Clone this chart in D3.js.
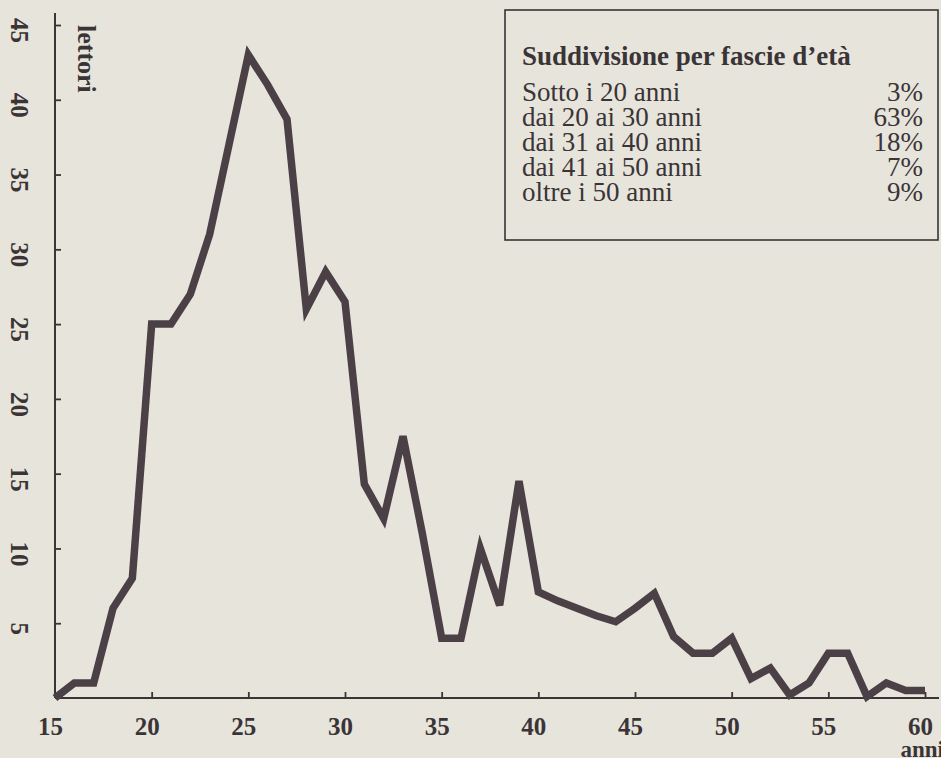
<!DOCTYPE html>
<html>
<head>
<meta charset="utf-8">
<script src="https://cdn.jsdelivr.net/npm/d3@7/dist/d3.min.js"></script>
<style>
  html, body { margin: 0; padding: 0; background: #e7e4dc; }
  svg { display: block; }
</style>
</head>
<body>
<svg id="chart" width="941" height="758"></svg>
<script>
// ---- data ----
const ages = [15,16,17,18,19,20,21,22,23,24,25,26,27,28,29,30,31,32,33,34,35,36,37,38,39,40,41,42,43,44,45,46,47,48,49,50,51,52,53,54,55,56,57,58,59,60];
const readers = [0,1,1,6,8,25,25,27,31,37,43,41,38.7,26,28.5,26.5,14.3,12,17.5,11,4,4,10,6.2,14.5,7.1,6.5,6,5.5,5.1,6,7,4.1,3,3,4,1.3,2,0.2,1,3,3,0.1,1,0.5,0.5];
const xTicks = [15,20,25,30,35,40,45,50,55,60];
const yTicks = [5,10,15,20,25,30,35,40,45];
const yLabel = "lettori";
const xLabel = "anni";
const legendTitle = "Suddivisione per fascie d\u2019età";
const legendLabels = ["Sotto i 20 anni","dai 20 ai 30 anni","dai 31 ai 40 anni","dai 41 ai 50 anni","oltre i 50 anni"];
const legendValues = ["3%","63%","18%","7%","9%"];

// ---- layout ----
const W = 941, H = 758;
const ink = "#3a3436";
const lineColor = "#4a4046";
const serif = "'Liberation Serif','DejaVu Serif','Times New Roman',serif";

const svg = d3.select("#chart");
svg.append("rect").attr("width", W).attr("height", H).attr("fill", "#e7e4dc");

const x = d3.scaleLinear().domain([15, 60]).range([55, 925]);
const y = d3.scaleLinear().domain([0, 45]).range([698, 25]);

// axis lines
svg.append("line").attr("x1", x(15)).attr("x2", 939).attr("y1", y(0)).attr("y2", y(0))
  .attr("stroke", ink).attr("stroke-width", 2);
svg.append("line").attr("x1", x(15)).attr("x2", x(15)).attr("y1", y(0)).attr("y2", 13)
  .attr("stroke", ink).attr("stroke-width", 2);

// x axis
const xAxis = svg.append("g").attr("transform", `translate(0,${y(0)})`)
  .call(d3.axisBottom(x).tickValues(xTicks).tickSize(-6).tickPadding(19).tickFormat(d3.format("d")));
xAxis.select(".domain").remove();
xAxis.selectAll(".tick line").attr("stroke", ink).attr("stroke-width", 1.8);
xAxis.selectAll(".tick line").filter(d => d === 15).remove();
xAxis.selectAll(".tick text")
  .attr("font-family", serif).attr("font-weight", "bold").attr("font-size", 25)
  .attr("fill", ink).attr("dx", -5);

// y axis
const yAxis = svg.append("g").attr("transform", `translate(${x(15)},0)`)
  .call(d3.axisLeft(y).tickValues(yTicks).tickSize(-6).tickFormat(d3.format("d")));
yAxis.select(".domain").remove();
yAxis.selectAll(".tick line").attr("stroke", ink).attr("stroke-width", 1.8);
yAxis.selectAll(".tick text")
  .attr("x", null).attr("dy", null).attr("text-anchor", "middle")
  .attr("transform", "translate(-44,5) rotate(90)")
  .attr("font-family", serif).attr("font-weight", "bold").attr("font-size", 25)
  .attr("fill", ink);

// axis titles
svg.append("text").attr("transform", "translate(78,25) rotate(90)")
  .attr("text-anchor", "start")
  .attr("font-family", serif).attr("font-weight", "bold").attr("font-size", 26)
  .attr("fill", ink).text(yLabel);
svg.append("text").attr("x", 944).attr("y", 757).attr("text-anchor", "end")
  .attr("font-family", serif).attr("font-weight", "bold").attr("font-size", 23)
  .attr("fill", ink).text(xLabel);

// data line
const line = d3.line().x((d, i) => x(ages[i])).y(d => y(d));
svg.append("path").datum(readers)
  .attr("d", line)
  .attr("fill", "none").attr("stroke", lineColor).attr("stroke-width", 7.5)
  .attr("stroke-linejoin", "miter").attr("stroke-miterlimit", 4);

// legend box
const lg = svg.append("g");
lg.append("rect").attr("x", 505).attr("y", 10).attr("width", 433).attr("height", 230)
  .attr("fill", "none").attr("stroke", ink).attr("stroke-width", 1.6);
lg.append("text").attr("x", 522).attr("y", 65)
  .attr("font-family", serif).attr("font-weight", "bold").attr("font-size", 27)
  .attr("fill", ink).text(legendTitle);
legendLabels.forEach((lab, i) => {
  lg.append("text").attr("x", 522).attr("y", 101 + i * 25)
    .attr("font-family", serif).attr("font-size", 27).attr("fill", ink)
    .text(lab);
  lg.append("text").attr("x", 923).attr("y", 101 + i * 25).attr("text-anchor", "end")
    .attr("font-family", serif).attr("font-size", 27).attr("fill", ink)
    .text(legendValues[i]);
});
</script>
</body>
</html>
